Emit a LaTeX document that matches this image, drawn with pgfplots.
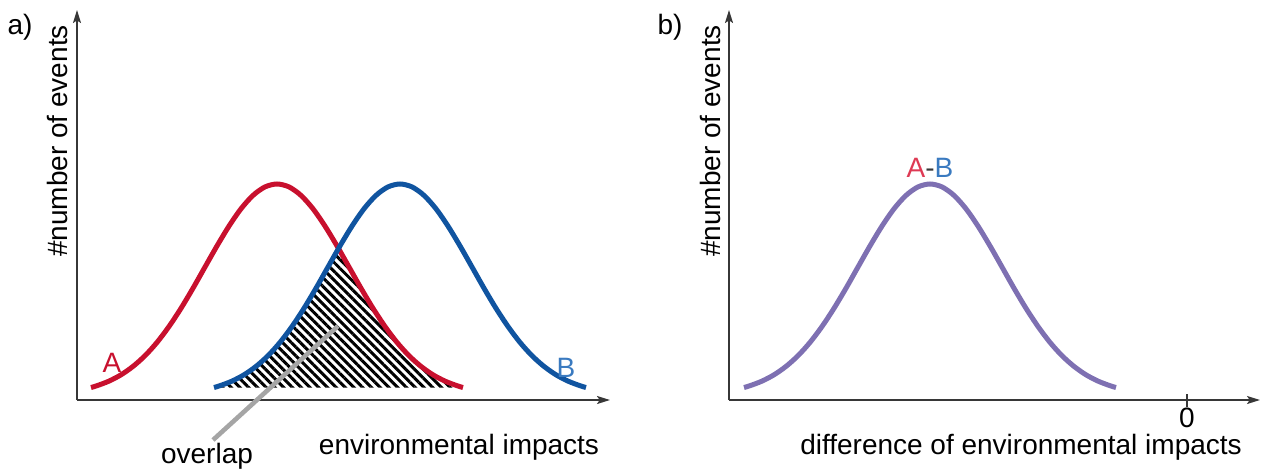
\documentclass[border=0pt]{standalone}
\usepackage{fontspec}
\setmainfont{Liberation Sans}
\usepackage{pgfplots}
\pgfplotsset{compat=1.18}
\usetikzlibrary{arrows.meta,patterns.meta}

\definecolor{curveA}{RGB}{200,16,46}
\definecolor{curveB}{RGB}{16,84,160}
\definecolor{curveD}{RGB}{126,112,178}
\definecolor{labA}{RGB}{222,58,84}
\definecolor{labB}{RGB}{58,122,192}
\definecolor{axcol}{RGB}{55,55,55}
\definecolor{ovl}{RGB}{165,165,165}

\pgfplotsset{
  panel/.style={
    x=0.5pt, y=0.5pt,
    ymin=0, ymax=390,
    axis lines=left,
    axis line style={axcol, line width=0.8pt, -{Stealth[length=6.5pt,width=4pt,inset=1.3pt]}},
    ytick=\empty,
    clip=false,
    anchor=south west,
  },
}

\begin{document}
\begin{tikzpicture}[font=\fontsize{14}{16.8}\selectfont]
\useasboundingbox (-38.5pt,-36pt) rectangle (593pt,200pt);

% a) two distributions and their overlap
\begin{axis}[panel, at={(0pt,0pt)}, xmin=77, xmax=610, xtick=\empty]
  % overlap (min of both curves)
  \addplot[draw=none, pattern={Lines[angle=-45,distance=3.1pt,line width=1.5pt]}, pattern color=black] coordinates {
    (214,12.5) (220,14.3) (232,18.9) (244,25.2) (256,33.6) (268,44.3) (280,57.6) (292,73.5)
    (304,91.7) (316,111.8) (328,133.0) (338.5,151.5) (349,133.0) (361,111.8) (373,91.7)
    (385,73.5) (397,57.6) (409,44.3) (421,33.6) (433,25.2) (445,18.9) (457,14.3) (463,12.5)
  };
  \draw[ovl, line width=2.3pt] (axis cs:213,-40) -- (axis cs:338,74);
  % A
  \addplot[curveA, line width=2.5pt, smooth] coordinates {
    (91,12.5) (97,14.3) (109,18.9) (121,25.2) (133,33.6) (145,44.3) (157,57.6) (169,73.5)
    (181,91.7) (193,111.8) (205,133.0) (217,154.1) (229,173.9) (241,191.2) (253,204.6)
    (265,213.1) (277,216) (289,213.1) (301,204.6) (313,191.2) (325,173.9) (337,154.1)
    (349,133.0) (361,111.8) (373,91.7) (385,73.5) (397,57.6) (409,44.3) (421,33.6)
    (433,25.2) (445,18.9) (457,14.3) (463,12.5)
  };
  % B
  \addplot[curveB, line width=2.5pt, smooth] coordinates {
    (214,12.5) (220,14.3) (232,18.9) (244,25.2) (256,33.6) (268,44.3) (280,57.6) (292,73.5)
    (304,91.7) (316,111.8) (328,133.0) (340,154.1) (352,173.9) (364,191.2) (376,204.6)
    (388,213.1) (400,216) (412,213.1) (424,204.6) (436,191.2) (448,173.9) (460,154.1)
    (472,133.0) (484,111.8) (496,91.7) (508,73.5) (520,57.6) (532,44.3) (544,33.6)
    (556,25.2) (568,18.9) (580,14.3) (586,12.5)
  };
  \node at (axis cs:20,373) {a)};
  \node[rotate=90] at (axis cs:57,259) {\#number of events};
  \node[curveA] at (axis cs:112,37) {A};
  \node[labB] at (axis cs:566,32) {B};
  \node[anchor=base] at (axis cs:207,-63) {overlap};
  \node[anchor=base] at (axis cs:459,-54) {environmental impacts};
\end{axis}

% b) difference
\begin{axis}[panel, at={(326pt,0pt)}, xmin=729, xmax=1260,
    xtick={1187}, xticklabels={0},
    major tick length=6.5pt, tick align=center,
    tick style={axcol, line width=0.8pt},
    xticklabel style={yshift=3pt}]
  \addplot[curveD, line width=2.5pt, smooth] coordinates {
    (744,12.5) (750,14.3) (762,18.9) (774,25.2) (786,33.6) (798,44.3) (810,57.6) (822,73.5)
    (834,91.7) (846,111.8) (858,133.0) (870,154.1) (882,173.9) (894,191.2) (906,204.6)
    (918,213.1) (930,216) (942,213.1) (954,204.6) (966,191.2) (978,173.9) (990,154.1)
    (1002,133.0) (1014,111.8) (1026,91.7) (1038,73.5) (1050,57.6) (1062,44.3) (1074,33.6)
    (1086,25.2) (1098,18.9) (1110,14.3) (1116,12.5)
  };
  \node at (axis cs:670,373) {b)};
  \node[rotate=90] at (axis cs:710,259) {\#number of events};
  \node[anchor=base] at (axis cs:930,223) {\textcolor{labA}{A}\textcolor{axcol}{-}\textcolor{labB}{B}};
  \node[anchor=base] at (axis cs:1021,-54) {difference of environmental impacts};
\end{axis}
\end{tikzpicture}
\end{document}
